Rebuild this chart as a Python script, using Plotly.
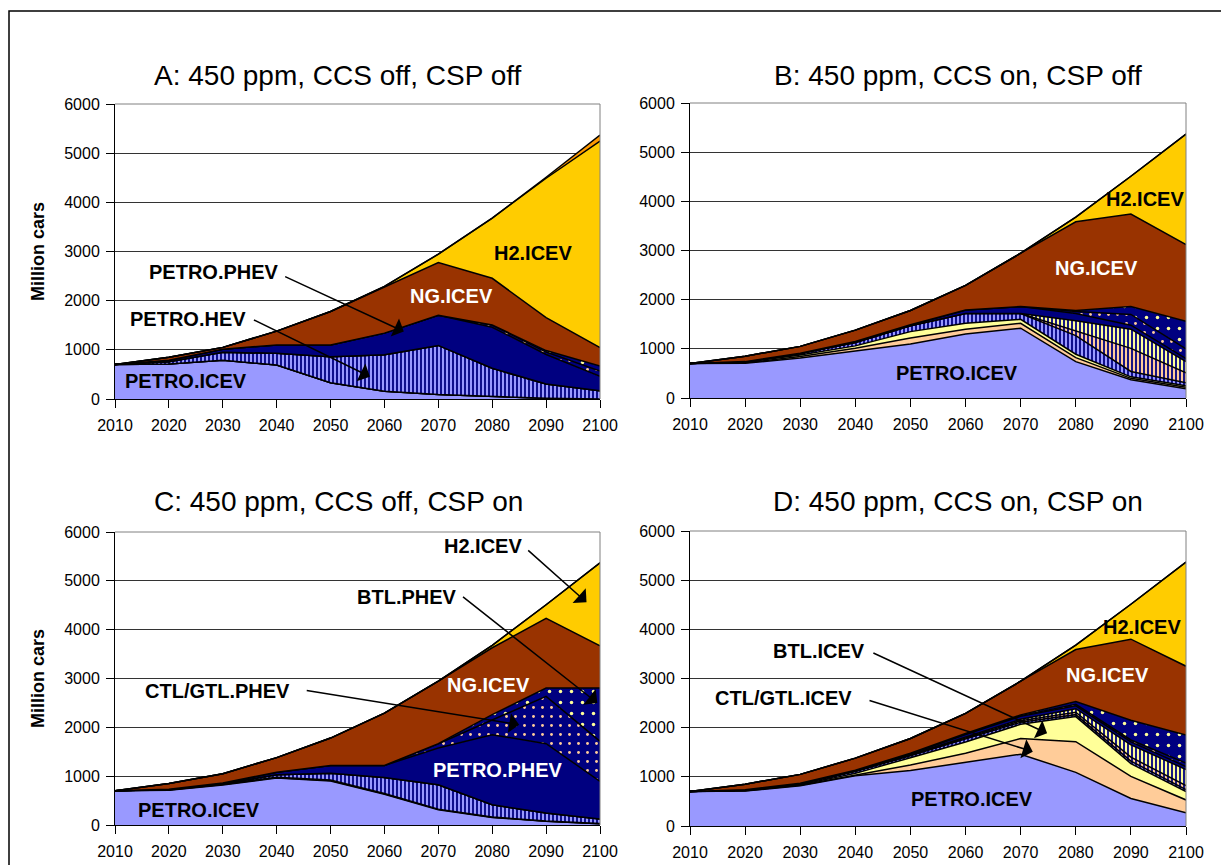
import plotly.graph_objects as go

# The page body adds an 8px margin, so the figure is drawn 8px smaller and shifted.
OFF = 8
W, H = 1229 - OFF, 865 - OFF

years = [2010, 2020, 2030, 2040, 2050, 2060, 2070, 2080, 2090, 2100]
y_ticks = [0, 1000, 2000, 3000, 4000, 5000, 6000]

series = ["PETRO.ICEV", "CTL/GTL.ICEV", "BTL.ICEV", "PETRO.HEV", "CTL/GTL.HEV", "BTL.HEV",
          "PETRO.PHEV", "CTL/GTL.PHEV", "BTL.PHEV", "NG.ICEV", "H2.ICEV", "H2.HEV"]

# ---------------- Panel A: 450 ppm, CCS off, CSP off ----------------
a_petro_icev = [700, 710, 790, 690, 330, 160, 90, 55, 15, 0]
a_ctl_icev = [0, 0, 0, 0, 0, 0, 0, 0, 0, 0]
a_btl_icev = [0, 0, 0, 0, 0, 0, 0, 0, 0, 0]
a_petro_hev = [0, 50, 160, 240, 530, 740, 1000, 570, 290, 170]
a_ctl_hev = [0, 0, 0, 0, 0, 0, 0, 0, 0, 0]
a_btl_hev = [0, 0, 0, 0, 0, 0, 0, 0, 0, 0]
a_petro_phev = [0, 30, 60, 170, 240, 440, 615, 835, 600, 290]
a_ctl_phev = [0, 0, 0, 0, 0, 0, 0, 45, 50, 110]
a_btl_phev = [0, 0, 0, 0, 0, 0, 0, 0, 30, 100]
a_ng_icev = [0, 60, 40, 280, 680, 930, 1070, 950, 670, 375]
a_h2_icev = [0, 0, 0, 0, 0, 20, 170, 1225, 2835, 4200]
a_h2_hev = [0, 0, 0, 0, 0, 0, 0, 0, 20, 125]

# ---------------- Panel B: 450 ppm, CCS on, CSP off ----------------
b_petro_icev = [700, 705, 815, 960, 1100, 1300, 1420, 740, 370, 190]
b_ctl_icev = [0, 10, 30, 50, 120, 100, 100, 80, 30, 30]
b_btl_icev = [0, 10, 30, 50, 130, 120, 80, 70, 30, 30]
b_petro_hev = [0, 10, 30, 70, 120, 200, 120, 380, 110, 60]
b_ctl_hev = [0, 0, 0, 0, 0, 0, 0, 100, 470, 200]
b_btl_hev = [0, 0, 0, 0, 0, 0, 0, 200, 390, 230]
b_petro_phev = [0, 5, 5, 20, 20, 70, 140, 150, 80, 60]
b_ctl_phev = [0, 0, 0, 0, 0, 0, 0, 40, 220, 200]
b_btl_phev = [0, 0, 0, 0, 0, 0, 0, 20, 160, 560]
b_ng_icev = [0, 110, 140, 230, 290, 500, 1085, 1805, 1880, 1560]
b_h2_icev = [0, 0, 0, 0, 0, 0, 0, 95, 770, 2250]
b_h2_hev = [0, 0, 0, 0, 0, 0, 0, 0, 0, 0]

# ---------------- Panel C: 450 ppm, CCS off, CSP on ----------------
c_petro_icev = [700, 710, 820, 960, 900, 630, 310, 155, 75, 25]
c_ctl_icev = [0, 5, 10, 10, 10, 10, 10, 5, 3, 2]
c_btl_icev = [0, 5, 5, 10, 10, 5, 5, 5, 2, 2]
c_petro_hev = [0, 5, 10, 50, 140, 330, 500, 250, 165, 95]
c_ctl_hev = [0, 0, 0, 0, 0, 0, 0, 0, 0, 0]
c_btl_hev = [0, 0, 0, 0, 0, 0, 0, 0, 0, 0]
c_petro_phev = [0, 5, 15, 50, 160, 245, 750, 1435, 1420, 770]
c_ctl_phev = [0, 0, 0, 0, 0, 0, 90, 300, 970, 820]
c_btl_phev = [0, 0, 0, 0, 0, 0, 0, 110, 170, 1090]
c_ng_icev = [0, 120, 190, 300, 560, 1070, 1280, 1370, 1425, 866]
c_h2_icev = [0, 0, 0, 0, 0, 0, 0, 50, 280, 1700]
c_h2_hev = [0, 0, 0, 0, 0, 0, 0, 0, 0, 0]

# ---------------- Panel D: 450 ppm, CCS on, CSP on ----------------
d_petro_icev = [700, 710, 820, 1020, 1130, 1300, 1460, 1090, 560, 270]
d_ctl_icev = [0, 5, 10, 20, 110, 180, 320, 625, 450, 260]
d_btl_icev = [0, 5, 10, 30, 150, 230, 290, 510, 260, 170]
d_petro_hev = [0, 10, 20, 40, 40, 60, 40, 40, 50, 40]
d_ctl_hev = [0, 0, 0, 5, 10, 20, 30, 50, 80, 80]
d_btl_hev = [0, 0, 0, 5, 10, 20, 30, 70, 250, 330]
d_petro_phev = [0, 5, 10, 15, 20, 50, 60, 60, 60, 60]
d_ctl_phev = [0, 0, 0, 0, 5, 10, 15, 30, 40, 70]
d_btl_phev = [0, 0, 0, 0, 5, 10, 15, 55, 400, 570]
d_ng_icev = [0, 115, 180, 245, 300, 410, 685, 1060, 1650, 1400]
d_h2_icev = [0, 0, 0, 0, 0, 0, 0, 90, 710, 2120]
d_h2_hev = [0, 0, 0, 0, 0, 0, 0, 0, 0, 0]

panel_titles = ["A: 450 ppm, CCS off, CSP off", "B: 450 ppm, CCS on, CSP off",
                "C: 450 ppm, CCS off, CSP on", "D: 450 ppm, CCS on, CSP on"]

panel_data = [
    [a_petro_icev, a_ctl_icev, a_btl_icev, a_petro_hev, a_ctl_hev, a_btl_hev,
     a_petro_phev, a_ctl_phev, a_btl_phev, a_ng_icev, a_h2_icev, a_h2_hev],
    [b_petro_icev, b_ctl_icev, b_btl_icev, b_petro_hev, b_ctl_hev, b_btl_hev,
     b_petro_phev, b_ctl_phev, b_btl_phev, b_ng_icev, b_h2_icev, b_h2_hev],
    [c_petro_icev, c_ctl_icev, c_btl_icev, c_petro_hev, c_ctl_hev, c_btl_hev,
     c_petro_phev, c_ctl_phev, c_btl_phev, c_ng_icev, c_h2_icev, c_h2_hev],
    [d_petro_icev, d_ctl_icev, d_btl_icev, d_petro_hev, d_ctl_hev, d_btl_hev,
     d_petro_phev, d_ctl_phev, d_btl_phev, d_ng_icev, d_h2_icev, d_h2_hev],
]

LAV, PEACH, YEL, NAVY, BROWN, GOLD, ORANGE = "#9999FF", "#FFCC99", "#FFFF99", "#000080", "#993300", "#FFCC00", "#FF9900"


def stripes(bg):
    return dict(shape="|", bgcolor=bg, fgcolor=NAVY, size=4, solidity=0.45, fillmode="replace")


def dashes(fg, size):
    return dict(shape=".", bgcolor=NAVY, fgcolor=fg, size=size, solidity=0.08, fillmode="replace")


styles = {
    "PETRO.ICEV": dict(fillcolor=LAV),
    "CTL/GTL.ICEV": dict(fillcolor=PEACH),
    "BTL.ICEV": dict(fillcolor=YEL),
    "PETRO.HEV": dict(fillcolor=LAV, fillpattern=stripes(LAV)),
    "CTL/GTL.HEV": dict(fillcolor=PEACH, fillpattern=stripes(PEACH)),
    "BTL.HEV": dict(fillcolor=YEL, fillpattern=stripes(YEL)),
    "PETRO.PHEV": dict(fillcolor=NAVY),
    "CTL/GTL.PHEV": dict(fillcolor=NAVY, fillpattern=dashes(PEACH, 9)),
    "BTL.PHEV": dict(fillcolor=NAVY, fillpattern=dashes(YEL, 11)),
    "NG.ICEV": dict(fillcolor=BROWN),
    "H2.ICEV": dict(fillcolor=GOLD),
    "H2.HEV": dict(fillcolor=ORANGE),
}

# plot-area pixel boxes in reference image coordinates (left, right, top, bottom)
boxes = [(115, 600, 104, 399), (690, 1186, 103, 398), (115, 600, 532, 825), (690, 1186, 531, 826)]


def px(x):
    return (x - OFF) / W


def py(y):
    return 1 - (y - OFF) / H


fig = go.Figure()

for i, vals in enumerate(panel_data):
    k = "" if i == 0 else str(i + 1)
    for name, v in zip(series, vals):
        fig.add_trace(go.Scatter(
            x=years, y=v, name=name, mode="lines", stackgroup="p" + str(i),
            line=dict(color="black", width=1.5), xaxis="x" + k, yaxis="y" + k,
            showlegend=False, hoverinfo="x+y+name", **styles[name]))

layout = dict(width=W, height=H, margin=dict(l=0, r=0, t=0, b=0),
              paper_bgcolor="white", plot_bgcolor="white", template="none",
              font=dict(family="Liberation Sans, Arial, sans-serif", color="black"))
shapes = []
for i, (l, r, t, b) in enumerate(boxes):
    k = "" if i == 0 else str(i + 1)
    layout["xaxis" + k] = dict(domain=[px(l), px(r)], range=[2010, 2100], tickvals=years,
                               ticks="outside", ticklen=8, tickcolor="black", showline=True,
                               linecolor="black", linewidth=1, showgrid=False, zeroline=False,
                               tickfont=dict(size=16), anchor="y" + k, automargin=False,
                               ticklabelstandoff=4, fixedrange=True)
    layout["yaxis" + k] = dict(domain=[py(b), py(t)], range=[0, 6000], tickvals=y_ticks,
                               ticks="outside", ticklen=8, tickcolor="black", showline=True,
                               linecolor="black", linewidth=1, showgrid=True, gridcolor="#333333",
                               gridwidth=1, zeroline=False, tickfont=dict(size=16),
                               anchor="x" + k, automargin=False, ticklabelstandoff=3,
                               fixedrange=True)
    xd, yd = "x" + k + " domain", "y" + k + " domain"
    shapes.append(dict(type="line", xref=xd, yref=yd, x0=0, x1=1, y0=1, y1=1,
                       line=dict(color="#808080", width=1)))
    shapes.append(dict(type="line", xref=xd, yref=yd, x0=1, x1=1, y0=0, y1=1,
                       line=dict(color="#808080", width=1)))

# outer frame
shapes.append(dict(type="rect", xref="paper", yref="paper", x0=px(9), x1=1.02, y0=-0.02,
                   y1=py(11), line=dict(color="black", width=1.5), fillcolor="rgba(0,0,0,0)"))
layout["shapes"] = shapes

ann = []
title_pos = [(338, 75), (958, 75), (338, 501), (958, 501)]
for t, (tx, ty) in zip(panel_titles, title_pos):
    ann.append(dict(text=t, xref="paper", yref="paper", x=px(tx), y=py(ty),
                    xanchor="center", yanchor="middle", showarrow=False,
                    font=dict(size=28, color="black")))
for ty in (251, 678):
    ann.append(dict(text="Million cars", xref="paper", yref="paper", x=px(38), y=py(ty),
                    xanchor="center", yanchor="middle", textangle=-90, showarrow=False,
                    font=dict(size=18, color="black", weight="bold")))

# in-chart labels: (panel, text, year, value, colour)
labels = [
    (0, "PETRO.ICEV", 2023.2, 366, "black"),
    (0, "PETRO.HEV", 2023.5, 1622, "black"),
    (0, "PETRO.PHEV", 2028.3, 2593, "black"),
    (0, "NG.ICEV", 2072.4, 2104, "white"),
    (0, "H2.ICEV", 2087.5, 2966, "black"),
    (1, "PETRO.ICEV", 2058.4, 507, "black"),
    (1, "NG.ICEV", 2083.7, 2638, "white"),
    (1, "H2.ICEV", 2092.5, 4038, "black"),
    (2, "H2.ICEV", 2078.2, 5720, "black"),
    (2, "BTL.PHEV", 2064.1, 4669, "black"),
    (2, "CTL/GTL.PHEV", 2029.0, 2737, "black"),
    (2, "NG.ICEV", 2079.3, 2874, "white"),
    (2, "PETRO.PHEV", 2081.1, 1133, "white"),
    (2, "PETRO.ICEV", 2025.6, 314, "black"),
    (3, "H2.ICEV", 2092.1, 4054, "black"),
    (3, "NG.ICEV", 2085.8, 3071, "white"),
    (3, "BTL.ICEV", 2033.4, 3566, "black"),
    (3, "CTL/GTL.ICEV", 2026.9, 2597, "black"),
    (3, "PETRO.ICEV", 2061.2, 542, "black"),
]
for p, txt, xv, yv, col in labels:
    k = "" if p == 0 else str(p + 1)
    ann.append(dict(text=txt, xref="x" + k, yref="y" + k, x=xv, y=yv, xanchor="center",
                    yanchor="middle", showarrow=False,
                    font=dict(size=20, color=col, weight="bold")))

# arrows: (panel, tail year, tail value, head year, head value)
arrows = [
    (0, 2041.3, 2504, 2063.6, 1371),
    (0, 2035.5, 1622, 2057.3, 455),
    (2, 2086.4, 5652, 2097.5, 4560),
    (2, 2074.3, 4696, 2099.5, 2498),
    (2, 2045.3, 2758, 2085.0, 2055),
    (3, 2043.0, 3532, 2074.8, 1885),
    (3, 2042.3, 2563, 2072.2, 1512),
]
for p, tx, ty, hx, hy in arrows:
    k = "" if p == 0 else str(p + 1)
    ann.append(dict(text="", xref="x" + k, yref="y" + k, x=hx, y=hy, axref="x" + k,
                    ayref="y" + k, ax=tx, ay=ty, showarrow=True, arrowhead=1,
                    arrowsize=2.2, arrowwidth=1.5, arrowcolor="black", standoff=0))
layout["annotations"] = ann

fig.update_layout(**layout)
fig.write_html("out.html")
